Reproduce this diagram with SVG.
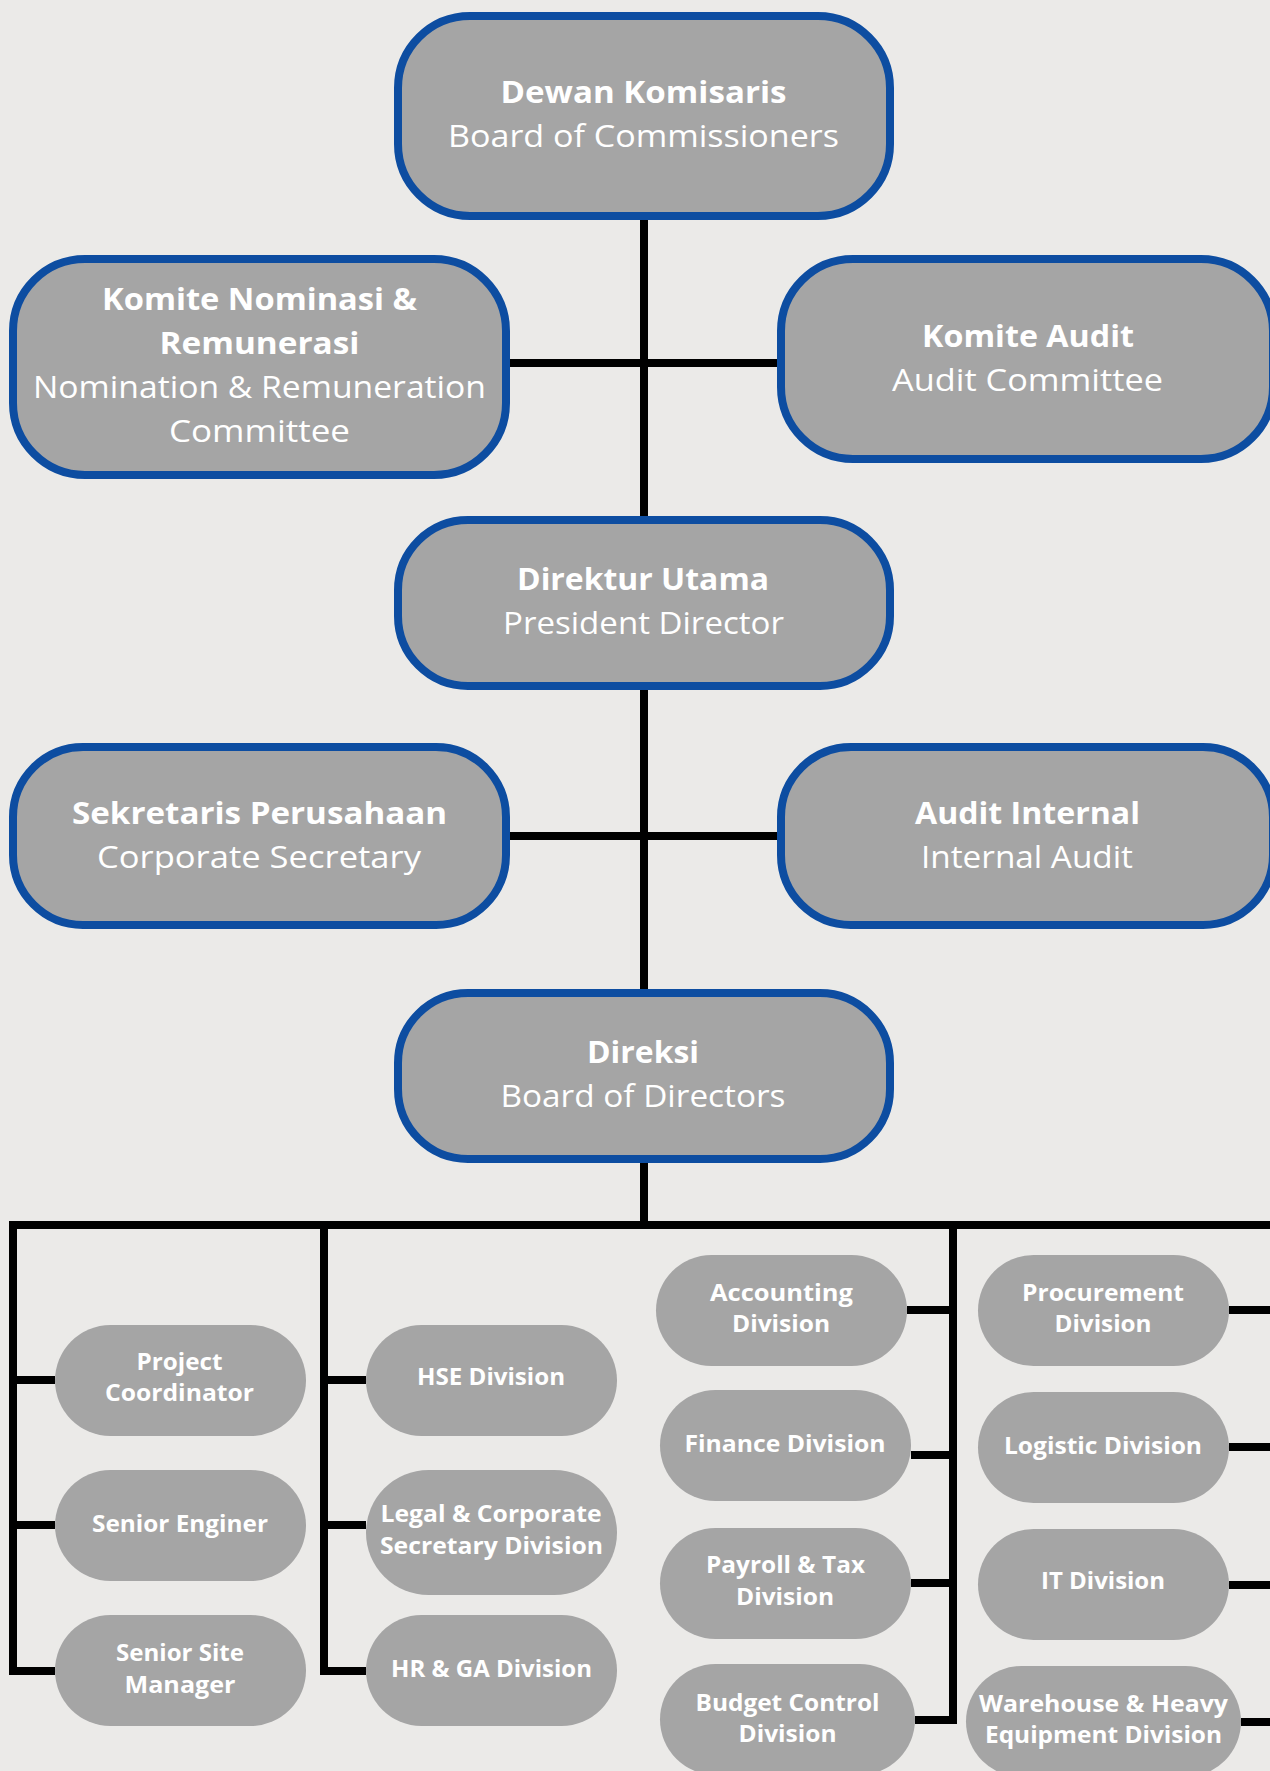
<svg xmlns="http://www.w3.org/2000/svg" width="1270" height="1771" viewBox="0 0 1270 1771">
<style>
.bg{fill:#EBEAE8}
.big{fill:#A5A5A5;stroke:#0D4DA1;stroke-width:8}
.small{fill:#A5A5A5}
.ln{fill:none;stroke:#000;stroke-width:8;stroke-linejoin:miter;stroke-linecap:butt}
text{fill:#fff;font-family:"Open Sans","DejaVu Sans",sans-serif;text-anchor:middle}
.t1{font-size:31px;font-weight:700}
.t2{font-size:31px;font-weight:400}
.ts{font-size:24px;font-weight:700}
.tw{font-size:23px;font-weight:700}
</style>
<rect class="bg" x="0" y="0" width="1270" height="1771"/>
<g id="connectors">
<path class="ln" d="M644 220 V1225"/>
<path class="ln" d="M510 363 H777"/>
<path class="ln" d="M510 836 H777"/>
<path class="ln" d="M55 1671 H13 V1225 H1276 V1722 H1241"/>
<path class="ln" d="M13 1380 H55 M13 1525 H55"/>
<path class="ln" d="M324 1225 V1671 H366 M324 1380 H366 M324 1525 H366"/>
<path class="ln" d="M953 1225 V1720 H915 M907 1310 H953 M911 1455 H953 M911 1583 H953"/>
<path class="ln" d="M1229 1310 H1276 M1229 1447 H1276 M1229 1585 H1276"/>
</g>
<g id="dewan-komisaris">
<rect class="big" x="398" y="16" width="492" height="200" rx="72"/>
<text class="t1" x="643.5" y="103" textLength="286" lengthAdjust="spacingAndGlyphs">Dewan Komisaris</text>
<text class="t2" x="643.5" y="147" textLength="391" lengthAdjust="spacingAndGlyphs">Board of Commissioners</text>
</g>
<g id="komite-nominasi">
<rect class="big" x="13" y="259" width="493" height="216" rx="72"/>
<text class="t1" x="259.5" y="310" textLength="315" lengthAdjust="spacingAndGlyphs">Komite Nominasi &amp;</text>
<text class="t1" x="259.5" y="354" textLength="200" lengthAdjust="spacingAndGlyphs">Remunerasi</text>
<text class="t2" x="259.5" y="398" textLength="453" lengthAdjust="spacingAndGlyphs">Nomination &amp; Remuneration</text>
<text class="t2" x="259.5" y="442" textLength="181" lengthAdjust="spacingAndGlyphs">Committee</text>
</g>
<g id="komite-audit">
<rect class="big" x="781" y="259" width="492" height="200" rx="72"/>
<text class="t1" x="1028" y="347" textLength="212" lengthAdjust="spacingAndGlyphs">Komite Audit</text>
<text class="t2" x="1027.5" y="391" textLength="271" lengthAdjust="spacingAndGlyphs">Audit Committee</text>
</g>
<g id="direktur-utama">
<rect class="big" x="398" y="520" width="492" height="166" rx="70"/>
<text class="t1" x="643" y="590" textLength="252" lengthAdjust="spacingAndGlyphs">Direktur Utama</text>
<text class="t2" x="643.5" y="634" textLength="281" lengthAdjust="spacingAndGlyphs">President Director</text>
</g>
<g id="sekretaris-perusahaan">
<rect class="big" x="13" y="747" width="493" height="178" rx="70"/>
<text class="t1" x="259.5" y="824" textLength="375" lengthAdjust="spacingAndGlyphs">Sekretaris Perusahaan</text>
<text class="t2" x="259" y="868" textLength="324" lengthAdjust="spacingAndGlyphs">Corporate Secretary</text>
</g>
<g id="audit-internal">
<rect class="big" x="781" y="747" width="492" height="178" rx="70"/>
<text class="t1" x="1027.5" y="824" textLength="225" lengthAdjust="spacingAndGlyphs">Audit Internal</text>
<text class="t2" x="1027" y="868" textLength="212" lengthAdjust="spacingAndGlyphs">Internal Audit</text>
</g>
<g id="direksi">
<rect class="big" x="398" y="993" width="492" height="166" rx="70"/>
<text class="t1" x="643" y="1063" textLength="112" lengthAdjust="spacingAndGlyphs">Direksi</text>
<text class="t2" x="643" y="1107" textLength="285" lengthAdjust="spacingAndGlyphs">Board of Directors</text>
</g>
<g id="project-coordinator">
<rect class="small" x="55" y="1325" width="251" height="111" rx="55.5"/>
<text class="ts" x="179.5" y="1369.5" textLength="86" lengthAdjust="spacingAndGlyphs">Project</text>
<text class="ts" x="179.5" y="1401" textLength="149" lengthAdjust="spacingAndGlyphs">Coordinator</text>
</g>
<g id="senior-enginer">
<rect class="small" x="55" y="1470" width="251" height="111" rx="55.5"/>
<text class="ts" x="180" y="1532" textLength="176" lengthAdjust="spacingAndGlyphs">Senior Enginer</text>
</g>
<g id="senior-site-manager">
<rect class="small" x="55" y="1615" width="251" height="111" rx="55.5"/>
<text class="ts" x="180" y="1661" textLength="128" lengthAdjust="spacingAndGlyphs">Senior Site</text>
<text class="ts" x="180" y="1693" textLength="111" lengthAdjust="spacingAndGlyphs">Manager</text>
</g>
<g id="hse-division">
<rect class="small" x="366" y="1325" width="251" height="111" rx="55.5"/>
<text class="ts" x="491" y="1385" textLength="148" lengthAdjust="spacingAndGlyphs">HSE Division</text>
</g>
<g id="legal-corporate-secretary-division">
<rect class="small" x="366" y="1470" width="251" height="125" rx="62.5"/>
<text class="ts" x="491" y="1522" textLength="221" lengthAdjust="spacingAndGlyphs">Legal &amp; Corporate</text>
<text class="ts" x="491.5" y="1554" textLength="223" lengthAdjust="spacingAndGlyphs">Secretary Division</text>
</g>
<g id="hr-ga-division">
<rect class="small" x="366" y="1615" width="251" height="111" rx="55.5"/>
<text class="ts" x="491.5" y="1677" textLength="201" lengthAdjust="spacingAndGlyphs">HR &amp; GA Division</text>
</g>
<g id="accounting-division">
<rect class="small" x="656" y="1255" width="251" height="111" rx="55.5"/>
<text class="ts" x="781.5" y="1300.5" textLength="143" lengthAdjust="spacingAndGlyphs">Accounting</text>
<text class="ts" x="781" y="1332" textLength="98" lengthAdjust="spacingAndGlyphs">Division</text>
</g>
<g id="finance-division">
<rect class="small" x="660" y="1390" width="251" height="111" rx="55.5"/>
<text class="ts" x="785" y="1452" textLength="201" lengthAdjust="spacingAndGlyphs">Finance Division</text>
</g>
<g id="payroll-tax-division">
<rect class="small" x="660" y="1528" width="251" height="111" rx="55.5"/>
<text class="ts" x="785.5" y="1573" textLength="159" lengthAdjust="spacingAndGlyphs">Payroll &amp; Tax</text>
<text class="ts" x="785" y="1604.5" textLength="98" lengthAdjust="spacingAndGlyphs">Division</text>
</g>
<g id="budget-control-division">
<rect class="small" x="660" y="1664" width="255" height="111" rx="55.5"/>
<text class="ts" x="787.5" y="1710.5" textLength="184" lengthAdjust="spacingAndGlyphs">Budget Control</text>
<text class="ts" x="787.5" y="1742" textLength="98" lengthAdjust="spacingAndGlyphs">Division</text>
</g>
<g id="procurement-division">
<rect class="small" x="978" y="1255" width="251" height="111" rx="55.5"/>
<text class="ts" x="1103" y="1300.5" textLength="162" lengthAdjust="spacingAndGlyphs">Procurement</text>
<text class="ts" x="1103" y="1332" textLength="97" lengthAdjust="spacingAndGlyphs">Division</text>
</g>
<g id="logistic-division">
<rect class="small" x="978" y="1392" width="251" height="111" rx="55.5"/>
<text class="ts" x="1103" y="1454" textLength="198" lengthAdjust="spacingAndGlyphs">Logistic Division</text>
</g>
<g id="it-division">
<rect class="small" x="978" y="1529" width="251" height="111" rx="55.5"/>
<text class="ts" x="1103" y="1589" textLength="124" lengthAdjust="spacingAndGlyphs">IT Division</text>
</g>
<g id="warehouse-heavy-equipment-division">
<rect class="small" x="966" y="1666" width="275" height="111" rx="55.5"/>
<text class="tw" x="1103.5" y="1711.5" textLength="249" lengthAdjust="spacingAndGlyphs">Warehouse &amp; Heavy</text>
<text class="tw" x="1103.5" y="1743" textLength="237" lengthAdjust="spacingAndGlyphs">Equipment Division</text>
</g>
</svg>
